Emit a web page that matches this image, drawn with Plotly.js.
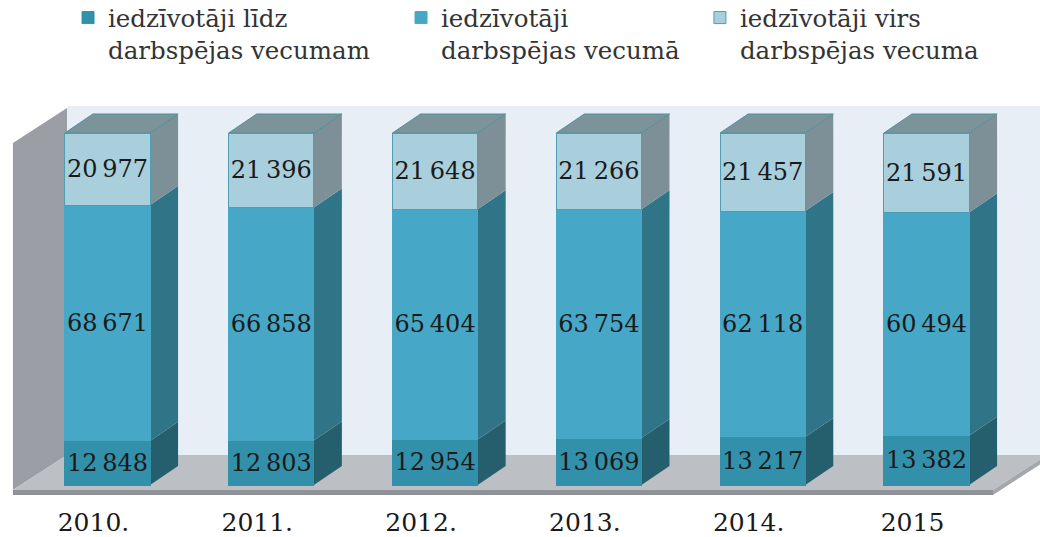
<!DOCTYPE html>
<html>
<head>
<meta charset="utf-8">
<script src="https://cdn.plot.ly/plotly-3.0.1.min.js"></script>
<style>body{margin:0;background:#fff}#chart{width:1040px;height:537px}</style>
</head>
<body>
<div id="chart"></div>
<script>
// iedzīvotāju skaits pa vecuma grupām
let years = ['2010.', '2011.', '2012.', '2013.', '2014.', '2015'];
let belowAge = [12848, 12803, 12954, 13069, 13217, 13382];
let workingAge = [68671, 66858, 65404, 63754, 62118, 60494];
let aboveAge = [20977, 21396, 21648, 21266, 21457, 21591];
let names = ['iedzīvotāji līdz<br>darbspējas vecumam', 'iedzīvotāji<br>darbspējas vecumā', 'iedzīvotāji virs<br>darbspējas vecuma'];

let frontColors = ['#3390aa', '#46a8c6', '#a9cfdc'];
let sideColors = ['#255f6d', '#2f7487', '#7d9098'];
let topColor = '#7b9399';
let font = 'DejaVu Serif';

let barWidth = 0.52;
let depthX = 0.171; // dziļums x virzienā
let depthY = 5.4;   // dziļums y virzienā (procentos)

function fmt(v){
    let s = String(v);
    return s.slice(0, s.length - 3) + '\u2009' + s.slice(s.length - 3);
}

function path(pts){
    return 'M' + pts.map(p => p[0] + ',' + p[1]).join('L') + 'Z';
}

function poly(pts, color, line){
    return {
        type: 'path', xref: 'x', yref: 'y', layer: 'below',
        path: path(pts), fillcolor: color,
        line: {width: line ? 1 : 0, color: line || color}
    };
}

let series = [belowAge, workingAge, aboveAge];
let xs = years.map((y, i) => i);
let legendIds = ['legend', 'legend2', 'legend3'];
let legendX = [0.0654, 0.3856, 0.673];

let traces = series.map((vals, s) => ({
    type: 'bar',
    name: names[s],
    legend: legendIds[s],
    x: xs,
    y: vals,
    width: barWidth,
    text: vals.map(fmt),
    textposition: 'inside',
    insidetextanchor: 'middle',
    textangle: 0,
    constraintext: 'none',
    textfont: {family: font, size: 24, color: '#1a1a1a'},
    marker: {color: frontColors[s], line: {width: 1, color: s == 2 ? '#4f9db3' : frontColors[s]}},
    hoverinfo: 'none'
}));

// sienas un grīda
let shapes = [
    poly([[-0.247, 8.52], [5.75, 8.52], [5.75, 107.7], [-0.247, 107.7]], '#e7eef5'),
    poly([[-0.577, -1.42], [-0.247, 8.52], [-0.247, 107.1], [-0.577, 97.16]], '#9b9ea4'),
    poly([[-0.577, -1.42], [5.406, -1.42], [5.736, 8.52], [-0.247, 8.52]], '#bcbfc3'),
    poly([[-0.577, -2.84], [5.406, -2.84], [5.406, -1.42], [-0.577, -1.42]], '#8f9397'),
    poly([[5.406, -2.84], [5.736, 7.1], [5.736, 8.52], [5.406, -1.42]], '#a4a8ac')
];

// stabiņu sānu un augšas skaldnes
xs.forEach(i => {
    let total = belowAge[i] + workingAge[i] + aboveAge[i];
    let x1 = i + barWidth / 2;
    let y0 = 0;
    series.forEach((vals, s) => {
        let y1 = y0 + vals[i] / total * 100;
        shapes.push(poly([[x1, y0], [x1 + depthX, y0 + depthY], [x1 + depthX, y1 + depthY], [x1, y1]], sideColors[s]));
        y0 = y1;
    });
    let x0 = i - barWidth / 2;
    shapes.push(poly([[x0, 100], [x1, 100], [x1 + depthX, 100 + depthY], [x0 + depthX, 100 + depthY]], topColor, '#4f8f9f'));
});

let layout = {
    width: 1040,
    height: 537,
    margin: {l: 0, r: 0, t: 80, b: 37, autoexpand: false},
    paper_bgcolor: '#ffffff',
    plot_bgcolor: '#ffffff',
    barmode: 'stack',
    barnorm: 'percent',
    showlegend: true,
    xaxis: {
        range: [-0.656, 5.693],
        tickvals: xs, ticktext: years,
        ticklabelshift: -14,
        ticklabelstandoff: 5,
        showgrid: false, zeroline: false, showline: false, ticks: '',
        tickfont: {family: font, size: 25, color: '#1a1a1a'},
        fixedrange: true
    },
    yaxis: {
        range: [-4.261, 115.06],
        showgrid: false, zeroline: false, showline: false, showticklabels: false,
        fixedrange: true
    },
    shapes: shapes
};

legendIds.forEach((id, s) => {
    layout[id] = {
        orientation: 'h', x: legendX[s], xanchor: 'left', y: 1.202, yanchor: 'top',
        valign: 'top', bgcolor: 'rgba(0,0,0,0)',
        font: {family: font, size: 24.5, color: '#333333'}
    };
});

Plotly.newPlot('chart', traces, layout, {displayModeBar: false, staticPlot: true});
</script>
</body>
</html>
